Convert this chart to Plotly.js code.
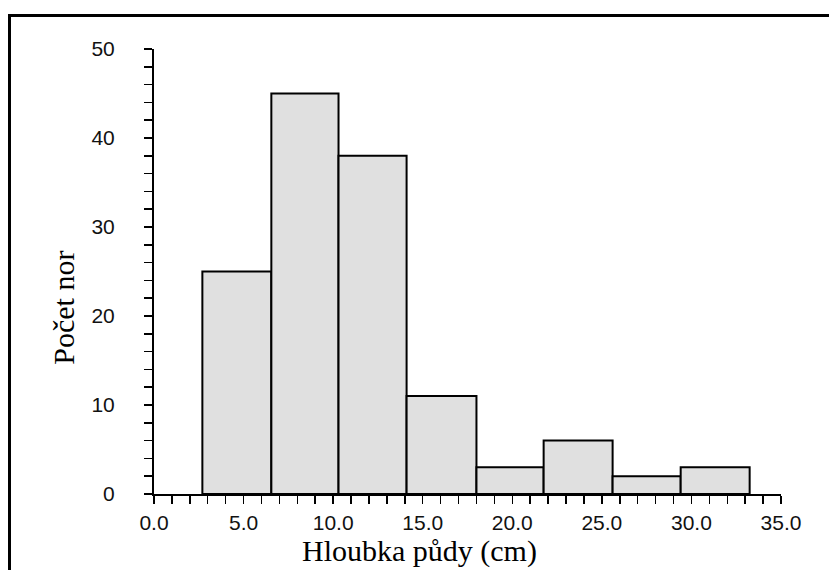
<!DOCTYPE html>
<html>
<head>
<meta charset="utf-8">
<script src="https://cdn.plot.ly/plotly-3.0.1.min.js"></script>
<style>
  html, body { margin: 0; padding: 0; background: #fff; overflow: hidden; }
  #wrap { position: relative; width: 829px; height: 570px; }
  #chart { position: absolute; left: 0; top: 0; width: 829px; height: 570px; }
  #frame { position: absolute; left: 8px; top: 14px; width: 900px; height: 700px;
           border-left: 3px solid #000; border-top: 3px solid #000; pointer-events: none; }
</style>
</head>
<body>
<div id="wrap">
  <div id="chart"></div>
  <div id="frame"></div>
</div>
<script>
// Histogram data
const binEdges = [2.7, 6.55, 10.3, 14.1, 18.0, 21.75, 25.6, 29.4, 33.25];
const counts = [25, 45, 38, 11, 3, 6, 2, 3];
const xTitle = 'Hloubka půdy (cm)';
const yTitle = 'Počet nor';

const centers = counts.map((c, i) => (binEdges[i] + binEdges[i + 1]) / 2);
const widths = counts.map((c, i) => binEdges[i + 1] - binEdges[i]);

const trace = {
  type: 'bar',
  x: centers,
  y: counts,
  width: widths,
  marker: { color: '#e0e0e0', line: { color: '#000', width: 2 } },
  hoverinfo: 'x+y'
};

const tickFont = { family: 'Liberation Sans, Arial, sans-serif', size: 21, color: '#111' };
const titleFont = { family: 'Liberation Serif, Times New Roman, serif', size: 30, color: '#000' };

const layout = {
  width: 829,
  height: 570,
  margin: { l: 154, r: 48, t: 49, b: 76 },
  paper_bgcolor: '#fff',
  plot_bgcolor: '#fff',
  showlegend: false,
  bargap: 0,
  xaxis: {
    range: [0, 35],
    dtick: 5,
    tick0: 0,
    tickformat: '.1f',
    showgrid: false,
    zeroline: false,
    showline: true,
    linecolor: '#000',
    linewidth: 2,
    ticks: 'outside',
    ticklen: 8,
    tickwidth: 1.5,
    tickcolor: '#000',
    tickfont: tickFont,
    ticklabelstandoff: 1,
    minor: { dtick: 1, ticks: 'outside', ticklen: 8, tickwidth: 1.5, tickcolor: '#000', showgrid: false },
    fixedrange: true
  },
  yaxis: {
    range: [0, 50],
    dtick: 10,
    tick0: 0,
    showgrid: false,
    zeroline: false,
    showline: true,
    linecolor: '#000',
    linewidth: 2,
    ticks: 'outside',
    ticklen: 8,
    tickwidth: 1.5,
    tickcolor: '#000',
    tickfont: tickFont,
    ticklabelstandoff: 25,
    minor: { dtick: 2, ticks: 'outside', ticklen: 8, tickwidth: 1.5, tickcolor: '#000', showgrid: false },
    fixedrange: true
  },
  annotations: [
    {
      text: xTitle, xref: 'paper', yref: 'paper', x: 0.424, y: -0.127,
      xanchor: 'center', yanchor: 'middle', showarrow: false, font: titleFont
    },
    {
      text: yTitle, xref: 'paper', yref: 'paper', x: -0.144, y: 0.418,
      xanchor: 'center', yanchor: 'middle', textangle: -90, showarrow: false, font: titleFont
    }
  ]
};

Plotly.newPlot('chart', [trace], layout, { displayModeBar: false, staticPlot: true });
</script>
</body>
</html>
